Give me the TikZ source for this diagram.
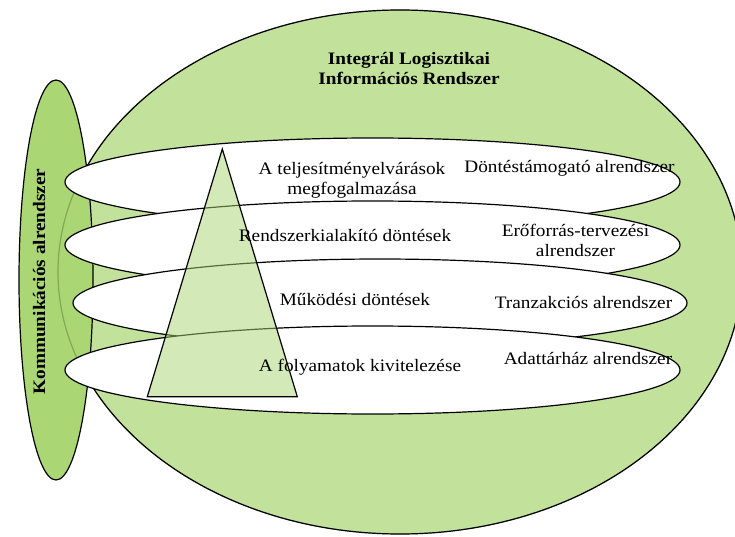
\documentclass[tikz,border=0pt]{standalone}
\usepackage{fontspec}
\setmainfont{Liberation Serif}[FakeStretch=1.1]
\definecolor{outerfill}{HTML}{C2E29C}
\definecolor{commfill}{HTML}{AAD673}
\definecolor{pyrfill}{HTML}{A9D571}
\begin{document}
\begin{tikzpicture}[x=1pt,y=-1pt,
  outline/.style={draw=black, line width=1.2pt},
  layer/.style={outline, fill=white},
  txt/.style={font=\fontsize{17.5}{20}\selectfont, inner sep=0pt, align=center, anchor=base},
  boldtxt/.style={txt, font=\fontsize{17.5}{20}\selectfont\bfseries}]
\useasboundingbox (0,0) rectangle (735,537);

% whole information system
\path[outline, fill=outerfill] (400,272) ellipse [x radius=342, y radius=262];
% communication subsystem, with the outer border showing faintly through
\path[outline, fill=commfill] (56,280) ellipse [x radius=37, y radius=200];
\draw[black, line width=1.2pt, opacity=0.22] (400,272) ellipse [x radius=342, y radius=262];

% the four decision layers
\path[layer] (372.5,182) ellipse [x radius=307.5, y radius=44];
\path[layer] (372.5,245) ellipse [x radius=307.5, y radius=44];
\path[layer] (380,303) ellipse [x radius=307, y radius=44];
\path[layer] (372.5,370) ellipse [x radius=307.5, y radius=44];

% decision pyramid
\coordinate (apex) at (222.3,149);
\coordinate (bl) at (147.3,396.7);
\coordinate (br) at (297.3,396.7);
\draw[line width=1.2pt, fill=pyrfill, fill opacity=0.5, line join=miter] (apex) -- (br) -- (bl) -- cycle;

% labels (two-line nodes sit on the baseline of their last line)
\node[boldtxt] (title) at (409,84.3) {Integrál Logisztikai\\Információs Rendszer};
\node[boldtxt, rotate=90] (komm) at (45,281.5) {Kommunikációs alrendszer};

\node[txt] (l1) at (352,194.3) {A teljesítményelvárások\\megfogalmazása};
\node[txt] (l2) at (345,241) {Rendszerkialakító döntések};
\node[txt] (l3) at (355,305) {Működési döntések};
\node[txt] (l4) at (360,371.7) {A folyamatok kivitelezése};

\node[txt] (s1) at (569.5,173) {Döntéstámogató alrendszer};
\node[txt] (s2) at (575.5,256.5) {Erőforrás-tervezési\\alrendszer};
\node[txt] (s3) at (583.5,308) {Tranzakciós alrendszer};
\node[txt] (s4) at (588,364) {Adattárház alrendszer};
\end{tikzpicture}
\end{document}
